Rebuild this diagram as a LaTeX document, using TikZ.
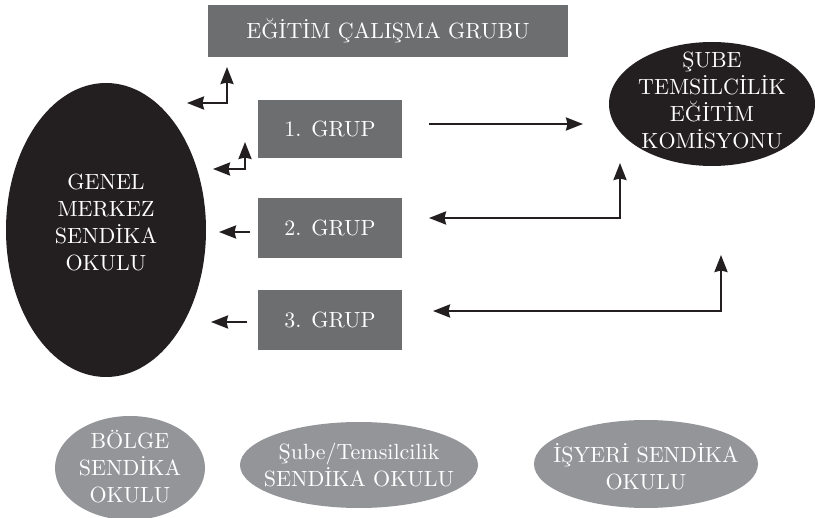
\documentclass[tikz,border=0pt]{standalone}
\usepackage{fontspec}
\newfontfamily\mainlm{lmroman10-regular.otf}
\usetikzlibrary{shapes.geometric,arrows.meta}
\definecolor{boxgray}{RGB}{109,110,112}
\definecolor{darkfill}{RGB}{35,31,32}
\definecolor{lightgray}{RGB}{147,149,152}
\begin{document}
\begin{tikzpicture}[x=1pt,y=-1pt,
  txt/.style={text=white,align=center,font=\mainlm\fontsize{22}{27}\selectfont},
  graybox/.style={txt,fill=boxgray,inner sep=0pt},
  darkell/.style={ellipse,fill=darkfill,inner sep=0pt},
  lightell/.style={ellipse,fill=lightgray,inner sep=0pt},
  arr/.style={line width=2.3pt,draw=darkfill,-{Stealth[length=17pt,width=13pt,inset=1.5pt]}},
  darr/.style={line width=2.3pt,draw=darkfill,{Stealth[length=17pt,width=13pt,inset=1.5pt]}-{Stealth[length=17pt,width=13pt,inset=1.5pt]}}
]
\useasboundingbox (0,0) rectangle (815,518);
% boxes
\node[graybox,minimum width=360pt,minimum height=52pt] (egb) at (388,31) {EĞİTİM ÇALIŞMA GRUBU};
\node[graybox,minimum width=144pt,minimum height=58pt] (g1) at (330,129) {1. GRUP};
\node[graybox,minimum width=144pt,minimum height=60pt] (g2) at (330,228) {2. GRUP};
\node[graybox,minimum width=144pt,minimum height=60pt] (g3) at (330,320) {3. GRUP};
% ellipses
\node[darkell,minimum width=200pt,minimum height=294pt] (gm) at (106,230) {};
\node[txt] (gmt) at (106,222) {GENEL\\MERKEZ\\SENDİKA\\OKULU};
\node[darkell,minimum width=206pt,minimum height=124pt] (st) at (712,104) {};
\node[txt] (stt) at (712,100) {ŞUBE\\TEMSİLCİLİK\\EĞİTİM\\KOMİSYONU};
\node[lightell,minimum width=150pt,minimum height=104pt] (bs) at (130,468) {};
\node[txt] (bst) at (130,467) {BÖLGE\\SENDİKA\\OKULU};
\node[lightell,minimum width=238pt,minimum height=86pt] (ss) at (359,465) {};
\node[txt] (sst) at (359,465) {Şube/Temsilcilik\\SENDİKA OKULU};
\node[lightell,minimum width=224pt,minimum height=88pt] (is) at (646,464) {};
\node[txt] (ist) at (646,467) {İŞYERİ SENDİKA\\OKULU};
% arrow coordinates
\coordinate (a1l) at (187,103);
\coordinate (a1c) at (227,103);
\coordinate (a1t) at (227,67);
\coordinate (a2l) at (213,169);
\coordinate (a2c) at (245,169);
\coordinate (a2t) at (245,142);
\coordinate (r1s) at (429,124);
\coordinate (r1e) at (583,124);
\coordinate (r2l) at (429,218);
\coordinate (r2c) at (620,218);
\coordinate (r2t) at (620,163);
\coordinate (r3l) at (433,311);
\coordinate (r3c) at (721,311);
\coordinate (r3t) at (721,255);
\coordinate (l2s) at (250,232);
\coordinate (l2e) at (219,232);
\coordinate (l3s) at (247,322);
\coordinate (l3e) at (211,322);
% arrows
\draw[darr] (a1l) -- (a1c) -- (a1t);
\draw[darr] (a2l) -- (a2c) -- (a2t);
\draw[arr] (r1s) -- (r1e);
\draw[darr] (r2l) -- (r2c) -- (r2t);
\draw[darr] (r3l) -- (r3c) -- (r3t);
\draw[arr] (l2s) -- (l2e);
\draw[arr] (l3s) -- (l3e);
\end{tikzpicture}
\end{document}
